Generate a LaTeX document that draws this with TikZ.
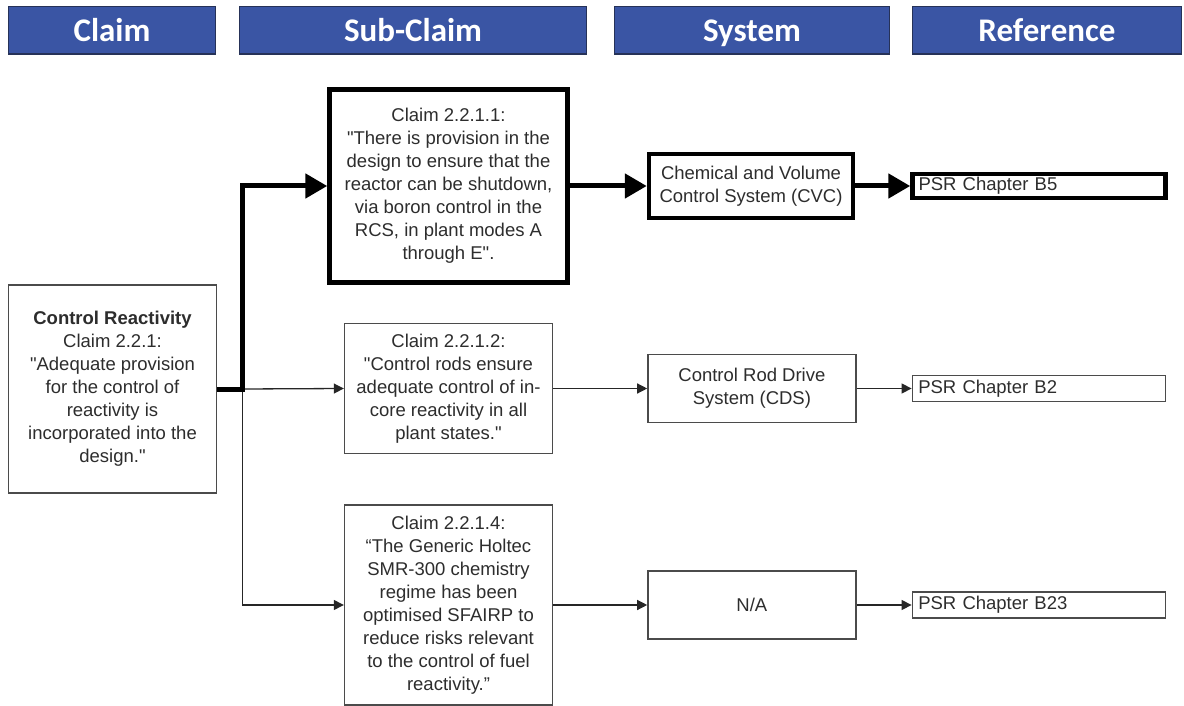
\documentclass[tikz,border=0pt]{standalone}
\usepackage{fontspec}
\setmainfont{Liberation Sans}
\newfontfamily\headfont{Carlito}
\usepackage{tikz}
\usetikzlibrary{arrows.meta, positioning}

\definecolor{headblue}{RGB}{58,85,164}
\definecolor{headline}{RGB}{38,50,88}
\definecolor{boxline}{RGB}{75,75,75}
\definecolor{txtgray}{RGB}{45,45,45}
\newcommand{\dq}{\textquotedbl}

\begin{document}
\begin{tikzpicture}[
  x=1pt, y=-1pt,
  head/.style={
    draw=headline, fill=headblue, line width=1.5pt,
    minimum height=47.5pt, inner sep=0pt, text=white,
    text height=23pt, text depth=0pt,
    font=\headfont\bfseries\fontsize{33}{36}\selectfont
  },
  box/.style={
    draw=boxline, line width=1.4pt, fill=white, inner sep=0pt,
    align=center, text=txtgray, font=\fontsize{18.5}{23}\selectfont
  },
  bigbox/.style={box, draw=black, line width=4.5pt},
  refbox/.style={minimum height=26pt, inner xsep=6pt, text width=241pt, align=left},
  arrow/.style={-{Triangle[length=10pt, width=10pt]}, line width=1.3pt, draw=black!85},
  bigarrow/.style={-{Triangle[length=22pt, width=24pt]}, line width=5pt},
]
  \useasboundingbox (0,0) rectangle (1184,706);

  % Column heads
  \node[head, minimum width=207pt] (hclaim) at (112,30.5) {Claim};
  \node[head, minimum width=347pt] (hsub) at (413,30.5) {Sub-Claim};
  \node[head, minimum width=275pt] (hsys) at (752,30.5) {System};
  \node[head, minimum width=269pt] (href) at (1047,30.5) {Reference};

  % Claim
  \node[box, minimum width=208pt, minimum height=208pt] (ctrl) at (112.5,389)
    {\textbf{Control Reactivity}\\Claim 2.2.1:\\\dq Adequate provision\\for the control of\\reactivity is\\incorporated into the\\design.\dq};

  % Sub-claims
  \node[bigbox, minimum width=238pt, minimum height=193pt] (sub1) at (448.5,186)
    {Claim 2.2.1.1:\\\dq There is provision in the\\design to ensure that the\\reactor can be shutdown,\\via boron control in the\\RCS, in plant modes A\\through E\dq.};
  \node[box, minimum width=208pt, minimum height=130pt] (sub2) at (448.5,388.5)
    {Claim 2.2.1.2:\\\dq Control rods ensure\\adequate control of in-\\core reactivity in all\\plant states.\dq};
  \node[box, minimum width=208pt, minimum height=200pt] (sub3) at (448.5,605)
    {Claim 2.2.1.4:\\“The Generic Holtec\\SMR-300 chemistry\\regime has been\\optimised SFAIRP to\\reduce risks relevant\\to the control of fuel\\reactivity.”};

  % Systems
  \node[bigbox, minimum width=204pt, minimum height=64pt, right=77pt of sub1] (cvc)
    {Chemical and Volume\\Control System (CVC)};
  \node[box, minimum width=208pt, minimum height=68pt, right=94pt of sub2] (cds)
    {Control Rod Drive\\System (CDS)};
  \node[box, minimum width=208pt, minimum height=68pt, right=94pt of sub3] (na)
    {N/A};

  % References
  \node[bigbox, refbox, minimum height=24pt, right=55pt of cvc] (ref1) {PSR Chapter B5};
  \node[box, refbox, right=55pt of cds] (ref2) {PSR Chapter B2};
  \node[box, refbox, right=55pt of na] (ref3) {PSR Chapter B23};

  % Links
  \coordinate (jn) at ([xshift=25pt]ctrl.east);
  \draw[arrow] (jn) -- (sub2.west);
  \draw[arrow] (jn) |- (sub3.west);
  \draw[bigarrow] (ctrl.east) -- (jn) |- (sub1.west);
  \draw[bigarrow] (sub1) -- (cvc);
  \draw[bigarrow] (cvc) -- (ref1);
  \draw[arrow] (sub2) -- (cds);
  \draw[arrow] (cds) -- (ref2);
  \draw[arrow] (sub3) -- (na);
  \draw[arrow] (na) -- (ref3);
\end{tikzpicture}
\end{document}
